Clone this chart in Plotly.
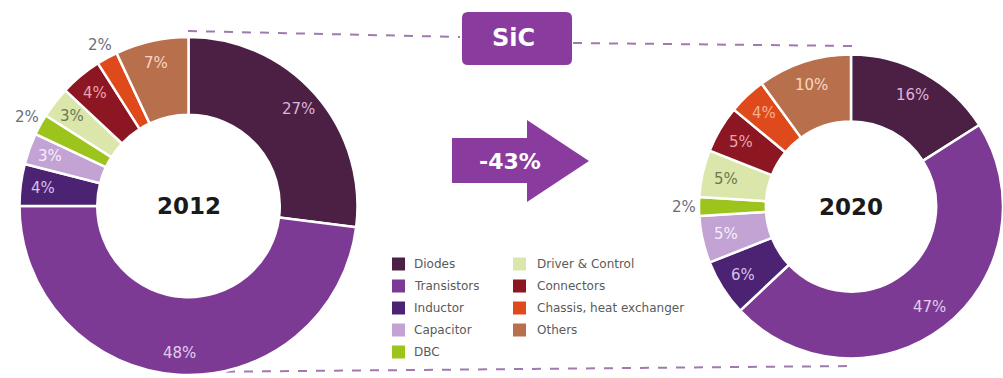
import math
import plotly.graph_objects as go

# Cost breakdown of a SiC power module, 2012 vs 2020
categories = ["Diodes", "Transistors", "Inductor", "Capacitor", "DBC",
              "Driver & Control", "Connectors", "Chassis, heat exchanger", "Others"]
share_2012 = [27, 48, 4, 3, 2, 3, 4, 2, 7]
share_2020 = [16, 47, 6, 5, 2, 5, 5, 4, 10]
years = ["2012", "2020"]
cost_change = "-43%"
material = "SiC"

W, H = 1003, 378
FONT = "DejaVu Sans"
PURPLE = "#8a3c9e"

slice_colors = ["#4b2044", "#7c3a95", "#4b2372", "#c2a3d4", "#9cc41c",
                "#dbe6aa", "#8c1622", "#df4a1c", "#b8704c"]
text_colors = ["#dcb4dc", "#e2cdea", "#d8c0ea", "#f6eefa", "#6a6e78",
               "#6b7852", "#eaa4ae", "#f6b08c", "#f6d6c2"]
outside_color = "#6a6e78"


def P(x, y):
    """Pixel position -> paper coordinates."""
    return x / W, 1 - y / H


donuts = [
    dict(values=share_2012, year=years[0], cx=188.5, cy=206, R=169, hole=0.54, lab=0.87),
    dict(values=share_2020, year=years[1], cx=851, cy=206.5, R=152, hole=0.56, lab=0.84),
]

fig = go.Figure()
annotations = []


def note(x, y, text, size, color, weight="normal", xanchor="center"):
    px_, py_ = P(x, y)
    annotations.append(dict(x=px_, y=py_, xref="paper", yref="paper", text=text,
                            showarrow=False, xanchor=xanchor, yanchor="middle",
                            font=dict(family=FONT, size=size, color=color, weight=weight)))


for d in donuts:
    cx, cy, R = d["cx"], d["cy"], d["R"]
    fig.add_trace(go.Pie(
        labels=categories, values=d["values"], sort=False, direction="clockwise",
        rotation=0, hole=d["hole"], textinfo="none", hoverinfo="label+percent",
        marker=dict(colors=slice_colors, line=dict(color="white", width=2.5)),
        domain=dict(x=[(cx - R) / W, (cx + R) / W],
                    y=[(H - cy - R) / H, (H - cy + R) / H]),
        showlegend=False,
    ))
    total = sum(d["values"])
    cum = 0
    for i, v in enumerate(d["values"]):
        ang = math.radians((cum + v / 2) / total * 360)
        cum += v
        if v <= 2:
            r, col = R + 15, outside_color
        else:
            r, col = R * d["lab"], text_colors[i]
        note(cx + r * math.sin(ang), cy - r * math.cos(ang), f"{v}%", 15, col)
    note(cx, cy, d["year"], 23, "#1a1a1a", "bold")


def to_paper_path(cmds):
    out = []
    for cmd in cmds:
        parts = cmd.split(" ")
        seg = [parts[0]]
        for p in parts[1:]:
            x, y = map(float, p.split(","))
            px_, py_ = P(x, y)
            seg.append(f"{px_:.5f},{py_:.5f}")
        out.append(" ".join(seg))
    return " ".join(out) + " Z"


shapes = []
# dashed connectors between the two donuts and the material box
for (x0, y0), (x1, y1) in [((188, 31), (460, 37)), ((573, 43), (853, 46)),
                           ((190, 372), (853, 366))]:
    a, b = P(x0, y0)
    c, e = P(x1, y1)
    shapes.append(dict(type="line", xref="paper", yref="paper", x0=a, y0=b, x1=c, y1=e,
                       line=dict(color="#a07aae", width=2, dash="dash"), layer="below"))

# rounded "SiC" box
bx0, by0, bx1, by1, rr = 462, 12, 572, 65, 6
box = [
    f"M {bx0 + rr},{by0}", f"L {bx1 - rr},{by0}", f"Q {bx1},{by0} {bx1},{by0 + rr}",
    f"L {bx1},{by1 - rr}", f"Q {bx1},{by1} {bx1 - rr},{by1}", f"L {bx0 + rr},{by1}",
    f"Q {bx0},{by1} {bx0},{by1 - rr}", f"L {bx0},{by0 + rr}", f"Q {bx0},{by0} {bx0 + rr},{by0}",
]
shapes.append(dict(type="path", xref="paper", yref="paper", path=to_paper_path(box),
                   fillcolor=PURPLE, line=dict(width=0)))
note(513, 38, material, 24, "white", "bold")

# block arrow with the cost reduction
arrow = [(452, 138), (527, 138), (527, 120), (589, 161), (527, 202), (527, 183), (452, 183)]
arrow_cmds = [f"M {arrow[0][0]},{arrow[0][1]}"] + [f"L {x},{y}" for x, y in arrow[1:]]
shapes.append(dict(type="path", xref="paper", yref="paper", path=to_paper_path(arrow_cmds),
                   fillcolor=PURPLE, line=dict(width=0)))
note(510, 161, cost_change, 22, "white", "bold")

# two-column legend
col_x = [(392, 412), (513, 535)]
rows_y = [264, 286, 308, 330, 352]
for i, name in enumerate(categories):
    col, row = (0, i) if i < 5 else (1, i - 5)
    mx, tx = col_x[col]
    my = rows_y[row]
    x0, y0 = P(mx, my - 6.5)
    x1, y1 = P(mx + 13, my + 6.5)
    shapes.append(dict(type="rect", xref="paper", yref="paper", x0=x0, y0=y0, x1=x1, y1=y1,
                       fillcolor=slice_colors[i], line=dict(width=0)))
    note(tx, my, name, 12, "#5a5a5a", xanchor="left")

fig.update_layout(
    width=W, height=H, margin=dict(l=0, r=0, t=0, b=0),
    paper_bgcolor="white", plot_bgcolor="white",
    shapes=shapes, annotations=annotations,
    font=dict(family=FONT),
)

fig.write_html("out.html")
